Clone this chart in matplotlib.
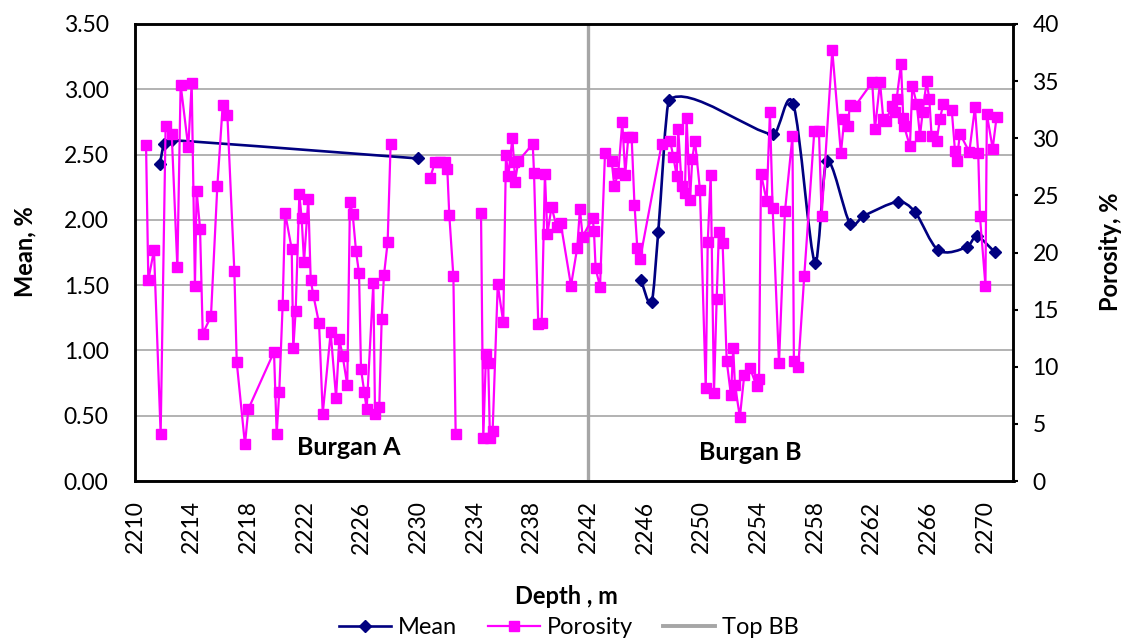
import numpy as np
import matplotlib
matplotlib.use("Agg")
import matplotlib.pyplot as plt
from matplotlib.path import Path
from matplotlib.patches import PathPatch
from matplotlib.lines import Line2D

plt.rcParams['font.family'] = ['Lato', 'DejaVu Sans']

# Mean (left axis), NaN = break in the curve
mean_depth = [2211.76, 2212.05, 2212.6, 2230.0, np.nan,
              2245.71, 2246.46, 2246.93, 2247.71, 2255.05, 2256.46, 2257.99,
              2258.81, 2260.46, 2261.40, 2263.87, 2265.05, 2266.69, 2268.74,
              2269.40, 2270.69]
mean_val = [2.43, 2.58, 2.61, 2.47, np.nan,
            1.54, 1.37, 1.91, 2.92, 2.655, 2.886, 1.671,
            2.451, 1.972, 2.029, 2.139, 2.06, 1.768, 1.793,
            1.875, 1.752]

# Porosity (right axis)
por_depth = [2210.78, 2210.94, 2211.34, 2211.81, 2212.16, 2212.59, 2212.99, 2213.22,
             2213.76, 2214.0, 2214.23, 2214.35, 2214.59, 2214.78, 2215.36, 2215.81,
             2216.19, 2216.52, 2217.01, 2217.18, 2217.76, 2218.0, 2219.81, 2220.0,
             2220.18, 2220.42, 2220.59, 2221.06, 2221.17, 2221.34, 2221.6, 2221.76,
             2221.93, 2222.23, 2222.4, 2222.58, 2222.99, 2223.25, 2223.81, 2224.19,
             2224.42, 2224.66, 2224.98, 2225.17, 2225.36, 2225.6, 2225.81, 2225.95,
             2226.18, 2226.35, 2226.82, 2226.94, 2227.24, 2227.41, 2227.57, 2227.83,
             2228.04, 2229.4,
             2230.82, 2231.17, 2231.52, 2231.88, 2232.04, 2232.18, 2232.47, 2232.63,
             2233.5,
             2234.42, 2234.58, 2234.77, 2234.93, 2235.05, 2235.24, 2235.6, 2235.99,
             2236.18, 2236.35, 2236.63, 2236.75, 2236.82, 2237.05, 2238.07, 2238.16,
             2238.46, 2238.7, 2238.93, 2239.1, 2239.4, 2239.76, 2240.04, 2240.77,
             2241.21, 2241.4, 2241.59,
             2242.3, 2242.39, 2242.51, 2242.82, 2243.17, 2243.64, 2243.83, 2244.11,
             2244.39, 2244.6, 2244.81, 2245.05, 2245.25, 2245.45, 2245.64,
             2247.17, 2247.76, 2247.99, 2248.23, 2248.34, 2248.58, 2248.81, 2248.93,
             2249.17, 2249.33, 2249.52, 2249.87, 2250.28, 2250.42, 2250.63, 2250.86,
             2251.05, 2251.21, 2251.47, 2251.76, 2252.06, 2252.22, 2252.34, 2252.69,
             2253.0, 2253.4, 2253.87, 2254.04, 2254.18, 2254.58, 2254.81, 2255.0,
             2255.45, 2255.87, 2256.4, 2256.5, 2256.81, 2257.23, 2257.94, 2258.27,
             2258.46, 2259.21, 2259.82, 2260.06, 2260.3, 2260.46, 2260.81, 2262.03,
             2262.22, 2262.58, 2262.81, 2263.0, 2263.4, 2263.63, 2263.75, 2264.06,
             2264.22, 2264.27, 2264.69, 2264.86, 2265.17, 2265.4, 2265.59, 2265.87,
             2266.06, 2266.22, 2266.58, 2266.81, 2267.04, 2267.64, 2267.87, 2267.99,
             2268.22, 2268.88, 2269.28, 2269.51, 2269.63, 2270.02, 2270.12, 2270.53,
             2270.81]
por_val = [29.4, 17.6, 20.2, 4.1, 31.1, 30.4, 18.7, 34.7,
           29.2, 34.8, 17.1, 25.4, 22.1, 12.9, 14.4, 25.8,
           32.9, 32.0, 18.4, 10.4, 3.2, 6.3, 11.3, 4.1,
           7.8, 15.4, 23.5, 20.3, 11.6, 14.9, 25.1, 23.0,
           19.2, 24.7, 17.6, 16.3, 13.8, 5.9, 13.0, 7.3,
           12.4, 10.9, 8.4, 24.4, 23.4, 20.1, 18.2, 9.8,
           7.8, 6.3, 17.3, 5.9, 6.5, 14.2, 18.0, 20.9,
           29.5, np.nan,
           26.5, 27.9, 27.9, 27.9, 27.3, 23.3, 17.9, 4.1,
           np.nan,
           23.5, 3.75, 11.1, 10.3, 3.75, 4.4, 17.2, 13.9,
           28.5, 26.7, 30.0, 27.9, 26.2, 28.0, 29.5, 27.0,
           13.7, 13.8, 26.9, 21.6, 24.0, 22.2, 22.6, 17.1,
           20.4, 23.8, 21.4,
           23.0, 21.9, 18.6, 17.0, 28.7, 28.0, 25.8, 27.0,
           31.4, 26.8, 30.1, 30.1, 24.2, 20.4, 19.4,
           29.5, 29.8, 28.4, 26.7, 30.8, 25.8, 25.2, 31.8,
           24.6, 28.2, 29.8, 25.5, 8.1, 20.9, 26.8, 7.7,
           15.9, 21.8, 20.8, 10.5, 7.5, 11.6, 8.4, 5.6,
           9.3, 9.9, 8.3, 8.9, 26.9, 24.5, 32.3, 23.9,
           10.3, 23.6, 30.2, 10.5, 10.0, 17.9, 30.6, 30.6,
           23.2, 37.7, 28.7, 31.7, 31.1, 32.9, 32.8, 34.9,
           30.8, 34.9, 31.7, 31.5, 32.8, 32.3, 33.4, 36.5,
           31.8, 31.1, 29.3, 34.6, 33.0, 30.2, 32.3, 35.0,
           33.4, 30.2, 29.8, 31.7, 33.0, 32.5, 28.9, 28.0,
           30.4, 28.8, 32.7, 28.7, 23.2, 17.1, 32.1, 29.1,
           31.9]

top_bb = 2242
x_ticks = list(range(2210, 2271, 4))
navy = '#000080'
magenta = '#ff00ff'
grey = '#a6a6a6'


def limit(vec, span):
    # keep the control point inside the segment so the curve does not loop back
    if abs(vec[0]) > span / 3:
        vec = vec * (span / 3) / abs(vec[0])
    return vec


def smooth_path(xs, ys):
    # Excel-like smoothed line: cubic Bezier through the points
    pts = np.column_stack([xs, ys])
    n = len(pts)
    verts = [pts[0]]
    codes = [Path.MOVETO]
    for i in range(n - 1):
        p0 = pts[max(i - 1, 0)]
        p1 = pts[i]
        p2 = pts[i + 1]
        p3 = pts[min(i + 2, n - 1)]
        span = p2[0] - p1[0]
        t1 = limit((p2 - p0) / 6, span)
        t2 = limit((p3 - p1) / 6, span)
        verts += [p1 + t1, p2 - t2, p2]
        codes += [Path.CURVE4] * 3
    return Path(verts, codes)


fig = plt.figure(figsize=(11.32, 6.43), dpi=100)
ax = fig.add_axes([135 / 1132, 1 - 481 / 643, 878.5 / 1132, 457 / 643])

ax.set_xlim(2210, 2272)
ax.set_ylim(0, 3.5)
ax.set_yticks(np.arange(0, 3.51, 0.5))
ax.set_yticklabels([f"{v:.2f}" for v in np.arange(0, 3.51, 0.5)])
ax.set_xticks(x_ticks)
ax.set_xticklabels([str(v) for v in x_ticks], rotation=90)
ax.grid(axis='y', color=grey, linewidth=1.2)
ax.set_axisbelow(True)
ax.tick_params(axis='y', length=0, labelsize=16.5, pad=19)
ax.tick_params(axis='x', length=0, labelsize=16.5, pad=14)
for s in ax.spines.values():
    s.set_linewidth(1.8)
    s.set_color('black')

# Top BB marker line
ax.plot([top_bb, top_bb], [0, 3.5], color=grey, linewidth=2.4, zorder=2)

# Mean series, smoothed
md = np.array(mean_depth)
mv = np.array(mean_val)
breaks = np.where(np.isnan(md))[0]
start = 0
for b in list(breaks) + [len(md)]:
    seg_x, seg_y = md[start:b], mv[start:b]
    ax.add_patch(PathPatch(smooth_path(seg_x, seg_y), fill=False,
                           edgecolor=navy, linewidth=1.9, zorder=3))
    start = b + 1
ax.plot(md, mv, linestyle='none', marker='D', markersize=5.8, color=navy, zorder=4)

ax.text(2225.1, 0.26, 'Burgan A', fontsize=18, fontweight='bold', ha='center', va='center')
ax.text(2253.4, 0.22, 'Burgan B', fontsize=18, fontweight='bold', ha='center', va='center')

# Porosity on the secondary axis
ax2 = ax.twinx()
ax2.set_ylim(0, 40)
ax2.set_yticks(range(0, 41, 5))
ax2.tick_params(axis='y', length=3.6, width=1.5, direction='out', labelsize=16.5, pad=10)
ax2.plot(por_depth, por_val, color=magenta, linewidth=1.6, marker='s',
         markersize=7.5, zorder=5)
for s in ax2.spines.values():
    s.set_linewidth(1.8)

fig.text(25 / 1132, 1 - 252 / 643, 'Mean, %', rotation=90, fontsize=17,
         fontweight='bold', ha='center', va='center')
fig.text(1110 / 1132, 1 - 252 / 643, 'Porosity, %', rotation=90, fontsize=17,
         fontweight='bold', ha='center', va='center')
fig.text(0.5, 1 - 597 / 643, 'Depth , m', fontsize=17, fontweight='bold',
         ha='center', va='center')

handles = [
    Line2D([], [], color=navy, linewidth=1.9, marker='D', markersize=5.8),
    Line2D([], [], color=magenta, linewidth=1.6, marker='s', markersize=7.5),
    Line2D([], [], color=grey, linewidth=2.8),
]
fig.legend(handles, ['Mean', 'Porosity', 'Top BB'], loc='center',
           bbox_to_anchor=(569 / 1132, 1 - 628 / 643), ncol=3, frameon=False,
           fontsize=17, handlelength=2.2, handletextpad=0.3, columnspacing=1.3,
           borderpad=0)

fig.savefig('out.png', dpi=100)
